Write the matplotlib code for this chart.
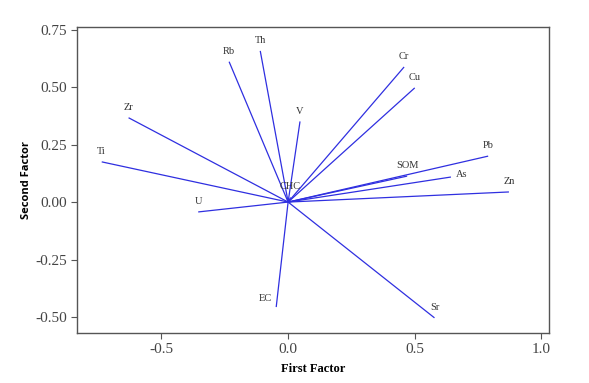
"""Factor loading plot: first vs second factor, one vector per variable."""
import matplotlib

matplotlib.use("Agg")
import matplotlib.pyplot as plt

# --- data ------------------------------------------------------------------
variables = ["Ti", "Zr", "Rb", "Th", "V", "U", "CHC", "EC", "Sr",
             "Cr", "Cu", "Pb", "SOM", "As", "Zn"]
first_factor = [-0.736, -0.630, -0.233, -0.110, 0.047, -0.355, 0.010, -0.047, 0.578,
                0.458, 0.500, 0.790, 0.470, 0.643, 0.872]
second_factor = [0.175, 0.367, 0.611, 0.658, 0.351, -0.043, 0.020, -0.457, -0.504,
                 0.588, 0.497, 0.200, 0.113, 0.109, 0.044]
x_ticks = [-0.5, 0.0, 0.5, 1.0]
y_ticks = [-0.50, -0.25, 0.00, 0.25, 0.50, 0.75]
# ----------------------------------------------------------------------------

LINE = "#2f2fe0"
AXIS = "#555555"
# label offsets (points) where the text is not simply above the arrow tip
label_offset = {"EC": (-8, 6), "As": (8, 2), "CHC": (0, 8)}

plt.rcParams["font.family"] = ["Liberation Serif", "DejaVu Serif"]

fig = plt.figure(figsize=(5.89, 3.83), dpi=100)
ax = fig.add_axes([0.131, 0.1305, 0.801, 0.799])

for name, fx, fy in zip(variables, first_factor, second_factor):
    ax.plot([0, fx], [0, fy], color=LINE, lw=0.9, solid_capstyle="butt")
    dx, dy = label_offset.get(name, (0, 7.5))
    ax.annotate(name, (fx, fy), xytext=(dx, dy), textcoords="offset points",
                ha="center", va="center", fontsize=7.5, color="#333333")

ax.set_xlim(-0.833, 1.03)
ax.set_ylim(-0.57, 0.762)
ax.set_xticks(x_ticks)
ax.set_xticklabels([f"{v:.1f}" for v in x_ticks])
ax.set_yticks(y_ticks)
ax.set_yticklabels([f"{v:.2f}" for v in y_ticks])

for spine in ax.spines.values():
    spine.set_color(AXIS)
    spine.set_linewidth(1.0)
ax.tick_params(colors=AXIS, labelcolor="#444444", labelsize=11, length=4, width=0.8)

ax.set_xlabel("First Factor", fontsize=9, fontweight="bold", labelpad=5)
ax.set_ylabel("Second Factor", fontsize=8, fontweight="bold", family="Open Sans",
              labelpad=2)

fig.savefig("out.png", dpi=100)
